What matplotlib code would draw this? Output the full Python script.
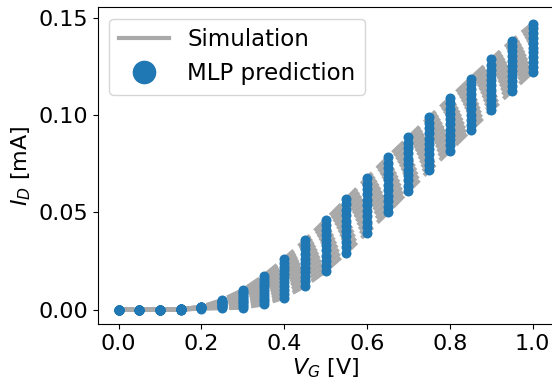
import numpy as np
import matplotlib
matplotlib.use("Agg")
import matplotlib.pyplot as plt
from matplotlib.lines import Line2D

# gate voltage sweep [V]
v_g = [0.00, 0.05, 0.10, 0.15, 0.20, 0.25, 0.30, 0.35, 0.40, 0.45, 0.50,
       0.55, 0.60, 0.65, 0.70, 0.75, 0.80, 0.85, 0.90, 0.95, 1.00]

# drain current [mA], one row per simulated device
i_d_curves = [
    [0, 0, 0, 0.0000, 0.0005, 0.0007, 0.0010, 0.0027, 0.0062, 0.0122, 0.0199, 0.0293, 0.0396, 0.0500, 0.0610, 0.0716, 0.0818, 0.0923, 0.1026, 0.1125, 0.1223],
    [0, 0, 0, 0.0000, 0.0006, 0.0011, 0.0019, 0.0042, 0.0082, 0.0145, 0.0225, 0.0321, 0.0424, 0.0528, 0.0638, 0.0743, 0.0845, 0.0950, 0.1052, 0.1151, 0.1248],
    [0, 0, 0, 0.0000, 0.0007, 0.0016, 0.0028, 0.0056, 0.0102, 0.0169, 0.0251, 0.0348, 0.0452, 0.0557, 0.0665, 0.0770, 0.0872, 0.0976, 0.1078, 0.1176, 0.1273],
    [0, 0, 0, 0.0001, 0.0008, 0.0020, 0.0037, 0.0071, 0.0121, 0.0192, 0.0278, 0.0376, 0.0480, 0.0585, 0.0693, 0.0798, 0.0899, 0.1003, 0.1104, 0.1202, 0.1297],
    [0, 0, 0, 0.0001, 0.0009, 0.0024, 0.0046, 0.0085, 0.0141, 0.0216, 0.0304, 0.0403, 0.0508, 0.0613, 0.0720, 0.0825, 0.0926, 0.1029, 0.1130, 0.1228, 0.1322],
    [0, 0, 0, 0.0001, 0.0010, 0.0029, 0.0056, 0.0100, 0.0161, 0.0239, 0.0330, 0.0431, 0.0536, 0.0642, 0.0748, 0.0852, 0.0953, 0.1056, 0.1156, 0.1254, 0.1347],
    [0, 0, 0, 0.0001, 0.0011, 0.0033, 0.0065, 0.0115, 0.0181, 0.0262, 0.0356, 0.0458, 0.0564, 0.0670, 0.0775, 0.0879, 0.0979, 0.1082, 0.1182, 0.1279, 0.1372],
    [0, 0, 0, 0.0001, 0.0012, 0.0037, 0.0074, 0.0129, 0.0201, 0.0286, 0.0382, 0.0486, 0.0592, 0.0698, 0.0803, 0.0906, 0.1006, 0.1109, 0.1208, 0.1305, 0.1397],
    [0, 0, 0, 0.0002, 0.0013, 0.0041, 0.0083, 0.0144, 0.0220, 0.0309, 0.0409, 0.0513, 0.0620, 0.0726, 0.0830, 0.0934, 0.1033, 0.1135, 0.1234, 0.1331, 0.1421],
    [0, 0, 0, 0.0002, 0.0014, 0.0046, 0.0092, 0.0158, 0.0240, 0.0333, 0.0435, 0.0541, 0.0648, 0.0755, 0.0858, 0.0961, 0.1060, 0.1162, 0.1260, 0.1356, 0.1446],
    [0, 0, 0, 0.0002, 0.0015, 0.0050, 0.0101, 0.0173, 0.0260, 0.0356, 0.0461, 0.0568, 0.0676, 0.0783, 0.0885, 0.0988, 0.1087, 0.1188, 0.1286, 0.1382, 0.1471],
]

fig = plt.figure(figsize=(5.52, 3.88), dpi=100)
ax = fig.add_axes([0.1775, 0.165, 0.825, 0.816])

for curve in i_d_curves:
    ax.plot(v_g, curve, '--', color='darkgray', lw=3, zorder=1)
for curve in i_d_curves:
    ax.plot(v_g, curve, 'o', color='tab:blue', ms=7.2, mew=0, zorder=2)

ax.set_xlim(-0.05, 1.05)
ax.set_ylim(-0.0074, 0.1554)
ax.set_xticks([0.0, 0.2, 0.4, 0.6, 0.8, 1.0])
ax.set_yticks([0.00, 0.05, 0.10, 0.15])
ax.tick_params(labelsize=16)
ax.set_xlabel('$V_G$ [V]', fontsize=16, labelpad=2)
ax.set_ylabel('$I_D$ [mA]', fontsize=16, labelpad=4)

handles = [Line2D([0], [0], color='darkgray', lw=3),
           Line2D([0], [0], marker='o', ls='none', color='tab:blue', ms=16)]
ax.legend(handles, ['Simulation', 'MLP prediction'], loc='upper left',
          fontsize=16.5, handlelength=2.2)

fig.savefig('out.png', dpi=100)
